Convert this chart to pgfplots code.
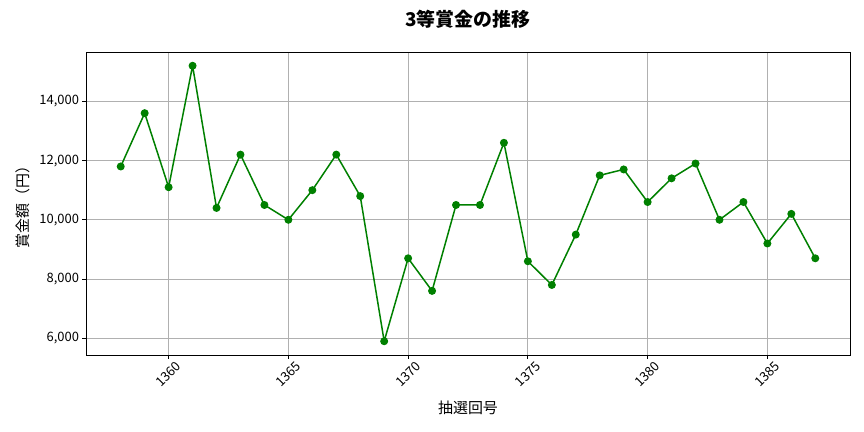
\documentclass[border=0pt]{standalone}
\usepackage{fontspec}
\setmainfont{Noto Sans CJK JP}
\usepackage{pgfplots}
\pgfplotsset{compat=1.18}

\definecolor{mplgreen}{HTML}{008000}
\definecolor{gridgray}{HTML}{B0B0B0}

\begin{document}
\begin{tikzpicture}
\begin{axis}[
    scale only axis,
    width=764bp,
    height=303bp,
    xmin=1356.55, xmax=1388.45,
    ymin=5435, ymax=15665,
    xtick={1360,1365,1370,1375,1380,1385},
    ytick={6000,8000,10000,12000,14000},
    scaled y ticks=false,
    scaled x ticks=false,
    grid=major,
    grid style={gridgray, line width=0.8bp},
    axis line style={black, line width=0.9bp},
    tick align=outside,
    xtick pos=bottom,
    ytick pos=left,
    major tick length=3.5bp,
    tick style={black, line width=0.8bp},
    ticklabel style={font=\fontsize{13}{15}\selectfont},
    xticklabel style={rotate=45, anchor=center},
    xticklabel shift=16bp,
    /pgf/number format/assume math mode=true,
    xticklabel={\pgfmathprintnumber[fixed, 1000 sep={}]{\tick}},
    yticklabel={\pgfmathprintnumber[fixed, 1000 sep={,}]{\tick}},
    title={3等賞金の推移},
    title style={font=\fontsize{19}{22}\selectfont\bfseries, at={(axis description cs:0.5,1)}, anchor=center, yshift=27bp},
    xlabel={抽選回号},
    xlabel style={font=\fontsize{15}{18}\selectfont, at={(axis description cs:0.5,0)}, anchor=center, yshift=-53bp},
    ylabel={賞金額（円）},
    ylabel style={font=\fontsize{15}{18}\selectfont, at={(axis description cs:-0.0825,0.5)}, anchor=center},
]
\addplot[mplgreen, line width=1.5bp, mark=*, mark size=3.2bp, mark options={fill=mplgreen, draw=mplgreen}] coordinates {
    (1358,11800) (1359,13600) (1360,11100) (1361,15200) (1362,10400)
    (1363,12200) (1364,10500) (1365,10000) (1366,11000) (1367,12200)
    (1368,10800) (1369,5900) (1370,8700) (1371,7600) (1372,10500)
    (1373,10500) (1374,12600) (1375,8600) (1376,7800) (1377,9500)
    (1378,11500) (1379,11700) (1380,10600) (1381,11400) (1382,11900)
    (1383,10000) (1384,10600) (1385,9200) (1386,10200) (1387,8700)
};
\end{axis}
\pgfresetboundingbox
\path (-86bp,-77bp) rectangle (778bp,355bp);
\end{tikzpicture}
\end{document}
